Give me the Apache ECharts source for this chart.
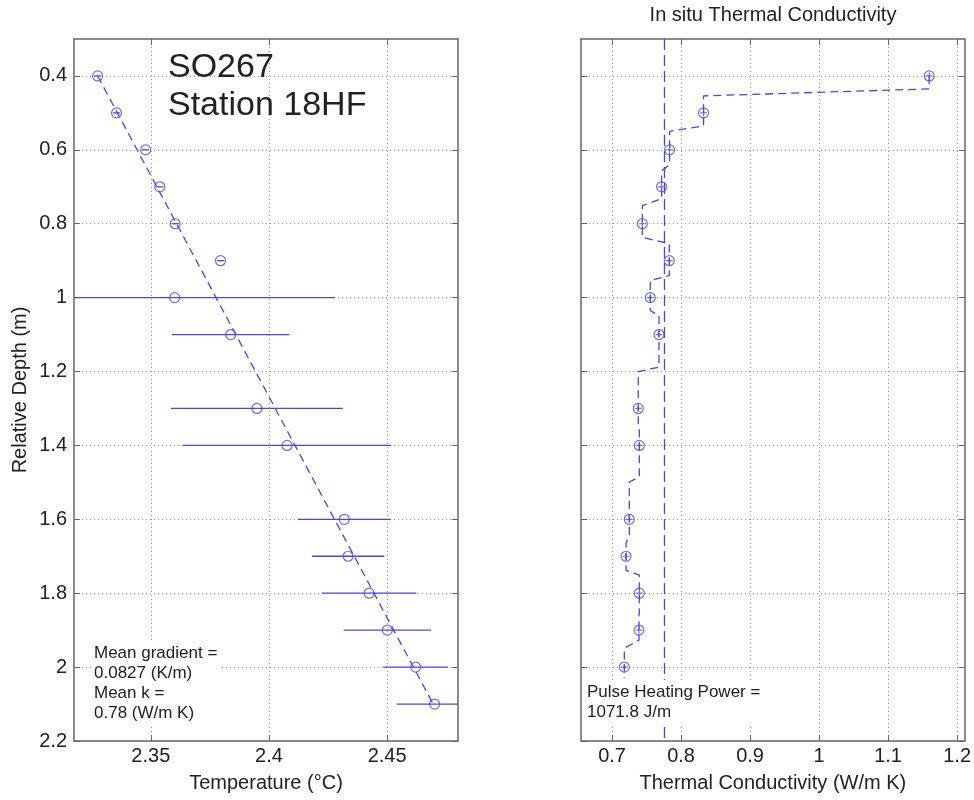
<!DOCTYPE html>
<html><head><meta charset="utf-8">
<script src="https://cdn.jsdelivr.net/npm/echarts@6/dist/echarts.min.js"></script>
<style>html,body{margin:0;padding:0;background:#fff}#c{width:974px;height:800px}</style>
</head><body><div id="c"></div>
<script>
// ---- data ----
const depthTicks = [0.4, 0.6, 0.8, 1.0, 1.2, 1.4, 1.6, 1.8, 2.0, 2.2];
const tempTicks = [2.35, 2.4, 2.45];
const kTicks = [0.7, 0.8, 0.9, 1.0, 1.1, 1.2];

const tempDepths = [0.4, 0.5, 0.6, 0.7, 0.8, 0.9, 1.0, 1.1, 1.3, 1.4, 1.6, 1.7, 1.8, 1.9, 2.0, 2.1];
const temps      = [2.3275, 2.3355, 2.3478, 2.3538, 2.3603, 2.3795, 2.3601, 2.3838, 2.3949, 2.4077, 2.4319, 2.4335, 2.4424, 2.4501, 2.4621, 2.4701];
const tempErrs   = [0.0015, 0.0015, 0.0015, 0.0015, 0.0015, 0.0015, 0.0677, 0.0248, 0.0364, 0.0440, 0.0197, 0.0153, 0.0200, 0.0185, 0.0137, 0.0161];

const fitDepths = [0.4, 2.1];
const fitTemps  = [2.3275, 2.4695];

const kDepths = [0.4, 0.5, 0.6, 0.7, 0.8, 0.9, 1.0, 1.1, 1.3, 1.4, 1.6, 1.7, 1.8, 1.9, 2.0];
const kValues = [1.1596, 0.8326, 0.7834, 0.7718, 0.7439, 0.7830, 0.7554, 0.7680, 0.7380, 0.7395, 0.7250, 0.7203, 0.7395, 0.7390, 0.7178];

const stepDepths = [0.40, 0.435, 0.454, 0.535, 0.550, 0.640, 0.657, 0.732, 0.751, 0.837, 0.854, 0.940, 0.954, 1.035, 1.049, 1.188, 1.200, 1.350, 1.360, 1.485, 1.499, 1.643, 1.665, 1.738, 1.751, 1.850, 1.860, 1.927, 1.949, 2.030];
const stepK      = [1.1596, 1.1596, 0.8326, 0.8326, 0.7834, 0.7834, 0.7718, 0.7718, 0.7439, 0.7439, 0.7830, 0.7830, 0.7554, 0.7554, 0.7680, 0.7680, 0.7380, 0.7380, 0.7395, 0.7395, 0.7250, 0.7250, 0.7203, 0.7203, 0.7395, 0.7395, 0.7390, 0.7390, 0.7178, 0.7178];

const meanK = 0.776;
const meanDepths = [0.3, 2.2];

// ---- styling ----
const FONT = '"Liberation Sans", Arial, sans-serif';
const BLUE = '#4848e0';
const AX = '#666';
const TXT = '#222';

function xAx(grid, min, max, ticks, pos, name) {
  const main = pos === 'bottom';
  return {
    gridIndex: grid, type: 'value', min: min, max: max, position: pos,
    name: main ? name : '', nameLocation: 'middle', nameGap: 32,
    nameTextStyle: { fontSize: 20, color: TXT, fontFamily: FONT },
    axisLine: { show: true, onZero: false, lineStyle: { color: AX, width: 1.5 } },
    axisTick: { show: true, inside: true, length: 6, customValues: ticks, lineStyle: { color: AX, width: 1 } },
    axisLabel: { show: main, customValues: ticks, fontSize: 20, color: TXT, fontFamily: FONT, margin: 5 },
    splitLine: { show: main, lineStyle: { type: [1, 3], color: '#999', width: 1 } }
  };
}
function yAx(grid, pos, labels, name) {
  const main = pos === 'left';
  return {
    gridIndex: grid, type: 'value', min: 0.3, max: 2.2, inverse: true, position: pos,
    name: (main && labels) ? name : '', nameLocation: 'middle', nameGap: 44,
    nameTextStyle: { fontSize: 20, color: TXT, fontFamily: FONT },
    axisLine: { show: true, onZero: false, lineStyle: { color: AX, width: 1.5 } },
    axisTick: { show: true, inside: true, length: 6, customValues: depthTicks, lineStyle: { color: AX, width: 1 } },
    axisLabel: { show: main && labels, customValues: depthTicks, fontSize: 20, color: TXT, fontFamily: FONT, margin: 7 },
    splitLine: { show: main, lineStyle: { type: [1, 3], color: '#999', width: 1 } }
  };
}

const circlePlus = 'path://M1,10A9,9 0 1,1 19,10A9,9 0 1,1 1,10ZM10,4L10,16M4,10L16,10';

const chart = echarts.init(document.getElementById('c'), null, { renderer: 'canvas' });
chart.setOption({
  animation: false,
  backgroundColor: '#fff',
  grid: [
    { left: 74, top: 39, width: 384, height: 702, containLabel: false },
    { left: 581, top: 39, width: 384, height: 702, containLabel: false }
  ],
  xAxis: [
    xAx(0, 2.3175, 2.48, tempTicks, 'bottom', 'Temperature (°C)'),
    xAx(0, 2.3175, 2.48, tempTicks, 'top', ''),
    xAx(1, 0.655, 1.211, kTicks, 'bottom', 'Thermal Conductivity (W/m K)'),
    xAx(1, 0.655, 1.211, kTicks, 'top', '')
  ],
  yAxis: [
    yAx(0, 'left', true, 'Relative Depth (m)'),
    yAx(0, 'right', false, ''),
    yAx(1, 'left', false, ''),
    yAx(1, 'right', false, '')
  ],
  series: [
    {
      type: 'line', xAxisIndex: 0, yAxisIndex: 0, symbol: 'none', silent: true,
      data: fitDepths.map((d, i) => [fitTemps[i], d]),
      lineStyle: { color: BLUE, width: 1.3, type: [8, 5] }, z: 3
    },
    {
      type: 'custom', xAxisIndex: 0, yAxisIndex: 0, clip: true, silent: true,
      data: tempDepths.map((d, i) => [temps[i] - tempErrs[i], temps[i] + tempErrs[i], d]),
      renderItem: function (params, api) {
        const a = api.coord([api.value(0), api.value(2)]);
        const b = api.coord([api.value(1), api.value(2)]);
        return { type: 'line', shape: { x1: a[0], y1: a[1], x2: b[0], y2: b[1] },
          style: { stroke: BLUE, lineWidth: 1.3 } };
      },
      z: 4
    },
    {
      type: 'scatter', xAxisIndex: 0, yAxisIndex: 0, symbol: 'circle', symbolSize: 10, silent: true,
      data: tempDepths.map((d, i) => [temps[i], d]),
      itemStyle: { color: 'transparent', borderColor: BLUE, borderWidth: 1.2 }, z: 5
    },
    {
      type: 'line', xAxisIndex: 2, yAxisIndex: 2, symbol: 'none', silent: true,
      data: meanDepths.map(d => [meanK, d]),
      lineStyle: { color: BLUE, width: 1.3, type: [11, 5] }, z: 3
    },
    {
      type: 'line', xAxisIndex: 2, yAxisIndex: 2, symbol: 'none', silent: true,
      data: stepDepths.map((d, i) => [stepK[i], d]),
      lineStyle: { color: BLUE, width: 1.3, type: [8, 5] }, z: 4
    },
    {
      type: 'scatter', xAxisIndex: 2, yAxisIndex: 2, symbol: circlePlus, symbolSize: 10, silent: true,
      data: kDepths.map((d, i) => [kValues[i], d]),
      itemStyle: { color: 'transparent', borderColor: BLUE, borderWidth: 1.2 }, z: 5
    }
  ],
  graphic: [
    { type: 'text', left: 168, top: 49, z: 100,
      style: { text: 'SO267\nStation 18HF', fontSize: 34, fontFamily: FONT, fill: TXT, lineHeight: 38 } },
    { type: 'text', left: 91, top: 641, z: 100,
      style: { text: 'Mean gradient =\n0.0827 (K/m)\nMean k =\n0.78 (W/m K)', fontSize: 17, fontFamily: FONT,
        fill: TXT, lineHeight: 20, backgroundColor: '#fff', padding: [2, 3, 4, 3] } },
    { type: 'text', left: 584, top: 680, z: 100,
      style: { text: 'Pulse Heating Power =\n1071.8 J/m', fontSize: 17, fontFamily: FONT,
        fill: TXT, lineHeight: 20, backgroundColor: '#fff', padding: [2, 3, 4, 3] } },
    { type: 'text', x: 773, y: 15, z: 100,
      style: { text: 'In situ Thermal Conductivity', fontSize: 20, fontFamily: FONT, fill: TXT,
        align: 'center', verticalAlign: 'middle' } }
  ]
});
</script></body></html>
